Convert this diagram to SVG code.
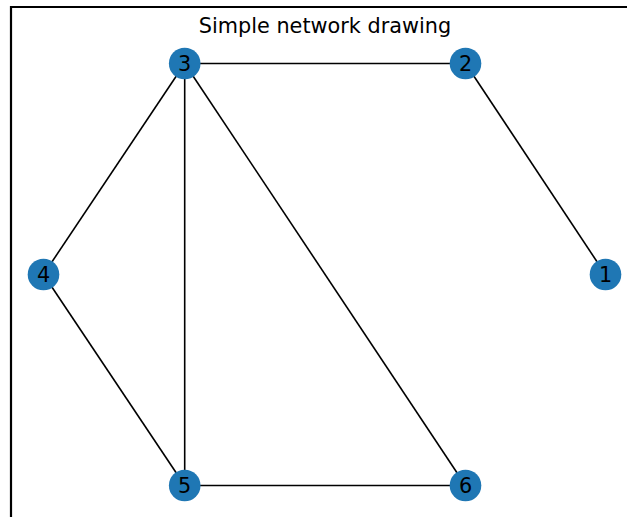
<svg xmlns="http://www.w3.org/2000/svg" width="627" height="517" viewBox="0 0 627 517">
<style>
.edge{stroke:#000;stroke-width:1.6;fill:none}
.node circle{fill:#1f77b4}
.node text{font-family:"DejaVu Sans",sans-serif;font-size:20.8px;fill:#000;text-anchor:middle;dominant-baseline:central}
.title{font-family:"DejaVu Sans",sans-serif;font-size:20.8px;fill:#000;text-anchor:middle}
</style>
<rect width="627" height="517" fill="#fff"/>
<path d="M11,517 V7 H627" stroke="#000" stroke-width="2.2" fill="none"/>
<text class="title" x="325" y="33">Simple network drawing</text>
<g id="edges">
<line class="edge" x1="184.7" y1="63.5" x2="465.5" y2="63.5"/>
<line class="edge" x1="465.5" y1="63.5" x2="605.5" y2="274.5"/>
<line class="edge" x1="184.7" y1="63.5" x2="43.5" y2="274.5"/>
<line class="edge" x1="184.7" y1="63.5" x2="184.7" y2="485.5"/>
<line class="edge" x1="184.7" y1="63.5" x2="465.5" y2="485.5"/>
<line class="edge" x1="43.5" y1="274.5" x2="184.7" y2="485.5"/>
<line class="edge" x1="184.7" y1="485.5" x2="465.5" y2="485.5"/>
</g>
<g id="node1" class="node"><circle cx="605.5" cy="274.5" r="15.8"/><text x="605.5" y="274.5">1</text></g>
<g id="node2" class="node"><circle cx="465.5" cy="63.5" r="15.8"/><text x="465.5" y="63.5">2</text></g>
<g id="node3" class="node"><circle cx="184.7" cy="63.5" r="15.8"/><text x="184.7" y="63.5">3</text></g>
<g id="node4" class="node"><circle cx="43.5" cy="274.5" r="15.8"/><text x="43.5" y="274.5">4</text></g>
<g id="node5" class="node"><circle cx="184.7" cy="485.5" r="15.8"/><text x="184.7" y="485.5">5</text></g>
<g id="node6" class="node"><circle cx="465.5" cy="485.5" r="15.8"/><text x="465.5" y="485.5">6</text></g>
</svg>
